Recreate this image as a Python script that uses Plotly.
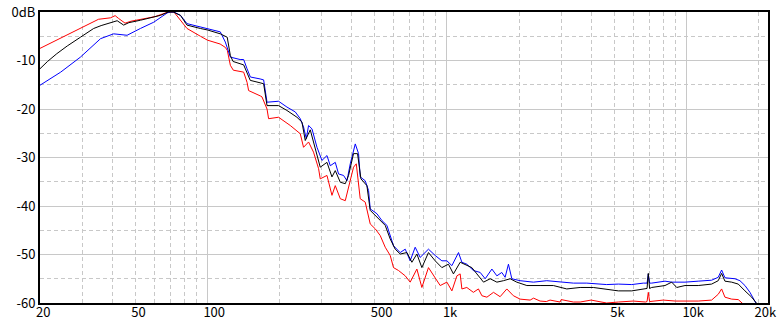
import math
import plotly.graph_objects as go

# ---- data (frequency in Hz, level in dB) ----
red_freq = [20, 24.4, 29.9, 35.1, 39.4, 41.2, 42.5, 45.3, 48, 51.5, 56, 60.5, 65, 68.7, 72.5,
            77.2, 80.7, 82.2, 93.5, 97.8, 100, 113, 118.8, 121.1, 124.7, 128.3, 141.7, 146.4, 148.6,
            166.3, 169, 177.4, 180.1, 198.2, 221.8, 244.2, 252, 264.5, 277.4, 291.2, 295.9, 315.7,
            331.2, 341.9, 358.8, 376.4, 388.5, 407.5, 418.4, 434.6, 456, 478.5, 502, 526.7, 552.7,
            579.8, 598.5, 627.9, 669.9, 702.6, 749.3, 786.1, 837.5, 893.3, 937.5, 1000, 1049, 1101,
            1136, 1155, 1211, 1290, 1354, 1400, 1469, 1565, 1668, 1779, 1895, 2021, 2226, 2300, 2449,
            2600, 2696, 2969, 3000, 3375, 3600, 4000, 4223, 4646, 5200, 6000, 6750, 6850, 6933, 7020,
            8000, 9000, 11204, 12744, 13580, 14028, 14484, 15451, 16462, 17200, 19000, 21000]
red_db = [-7.5, -5.4, -3.2, -1.5, -1.2, -0.75, -1.3, -2.3, -1.9, -1.6, -1.2, -0.95, -0.4, 0, 0,
          -1.7, -3.0, -3.4, -5.0, -5.5, -5.8, -6.6, -7.3, -7.9, -11, -12, -12.4, -14.5, -16.2,
          -17.3, -17.5, -20, -22, -21.7, -23.4, -25.1, -27.9, -26.8, -28.9, -32.3, -34.4, -33.7,
          -37.8, -35.8, -38.5, -38.9, -36.1, -32.0, -31.3, -38.5, -39.2, -43.7, -44.7, -46.1, -48.5,
          -50.2, -52.7, -53.3, -54.4, -55.7, -53.0, -56.8, -52.7, -54.8, -56.4, -55.7, -57.5, -54.4,
          -54.0, -57.1, -56.8, -57.8, -57.1, -58.5, -58.8, -57.8, -58.7, -57.1, -58.5, -59.2, -59.4, -59.0, -59.6,
          -59.7, -59.4, -59.8, -59.3, -59.8, -59.8, -59.4, -59.6, -60, -59.8, -59.6, -59.8, -59.7, -57.8, -59.7,
          -59.4, -59.6, -59.6, -59.4, -58.2, -57.1, -58.8, -59.2, -59.3, -60.2, -62, -64]

black_freq = [20, 21.5, 23.5, 26, 29.5, 33.5, 36, 39.4, 42, 44.7, 47, 52.5, 58, 63.6, 68.7, 72,
              77.2, 80.7, 82.2, 93.5, 100, 113.2, 121, 124.7, 128, 141.7, 146.4, 151, 166, 171.7,
              177.4, 198.2, 214.8, 236.5, 248.2, 256.2, 268.8, 281.9, 295.9, 315.7, 331.2, 341.9,
              358.8, 376.4, 388.5, 407.5, 423.6, 437.5, 463.4, 478.5, 518.2, 552.7, 579.8, 608.3,
              638.3, 680.8, 714.1, 749.3, 786.1, 837.5, 893.3, 952.7, 1015, 1065, 1136, 1211, 1271,
              1334, 1422, 1516, 1617, 1722, 1837, 1958, 2157, 2449, 2783, 3166, 3600, 4086, 4646,
              5199, 5911, 6607, 6850, 6933, 7020, 7162, 8140, 8682, 9111, 9864, 11204, 12744, 13580,
              14028, 14484, 15451, 16462, 17559, 18727, 19600, 21000]
black_db = [-11.7, -10.2, -8.6, -7.0, -5.2, -3.4, -2.8, -2.3, -1.8, -2.7, -2.2, -1.7, -1.2, -0.7, 0, 0,
            -0.7, -2.0, -2.7, -3.4, -3.7, -4.5, -5.2, -9.0, -10.2, -10.9, -12.5, -14.1, -14.6, -14.8,
            -19.3, -19.3, -20.3, -21.7, -22.7, -26.5, -24.3, -27.9, -32.0, -31.0, -34.0, -32.7,
            -35.1, -35.4, -33.7, -29.2, -29.2, -34.4, -35.8, -40.9, -42.7, -44.0, -46.8, -48.9,
            -49.9, -49.6, -51.6, -49.9, -52.7, -49.6, -51.3, -52.7, -52.0, -54.0, -51.6, -52.3, -52.7,
            -54.0, -55.7, -55.0, -55.7, -55.4, -55.0, -55.7, -56.4, -56.4, -56.4, -57.1, -56.8, -56.8, -57.1,
            -57.5, -57.5, -57.1, -57.0, -53.9, -57.0, -56.8, -56.4, -55.7, -56.8, -56.4, -56.4, -56.1, -55.4,
            -53.9, -55.5, -55.7, -56.1, -57.5, -58.8, -60, -62]

blue_freq = [20, 24.4, 29.5, 35.8, 40.6, 44, 46.2, 52.5, 59.7, 67.9, 70, 72.5, 77.2, 82.2, 93.5,
             113.2, 118.8, 124.7, 137, 141.7, 146.4, 151.1, 166, 171.7, 177.4, 198.2, 214.8, 232.7,
             244.2, 252, 258.8, 264.5, 273.3, 286.8, 300.8, 315.7, 325.9, 341.9, 353, 370.3, 382.6,
             394.9, 414.4, 427.7, 434.6, 456, 470.9, 478.5, 510.4, 535.4, 561.8, 579.8, 598.5, 638.3,
             669.9, 702.6, 737.1, 773.3, 837.5, 893.3, 952.7, 1000, 1049, 1118, 1155, 1211, 1290,
             1377, 1445, 1541, 1617, 1695, 1750, 1807, 1867, 2021, 2297, 2612, 2969, 3375, 3839, 4646,
             5199, 5911, 6607, 6850, 6933, 7020, 7162, 8140, 8682, 9864, 11204, 12744, 13580, 14028,
             14484, 15947, 16733, 17559, 18424, 19320, 20000, 21500]
blue_db = [-15.1, -12.4, -9.3, -5.5, -4.5, -4.6, -4.8, -3.4, -2.1, -0.2, 0, 0, -0.7, -2.4, -3.1,
           -4.1, -6.2, -9.3, -9.8, -9.8, -11.7, -13.4, -13.8, -14.0, -18.6, -18.4, -19.6, -20.6,
           -22.0, -23.7, -26.1, -23.4, -24.1, -27.9, -30.6, -29.6, -31.7, -31.0, -33.4, -33.7, -34.8,
           -31.3, -27.2, -29.2, -34.0, -34.8, -36.8, -40.6, -41.6, -43.0, -44.0, -46.1, -48.2, -49.6,
           -48.9, -51.3, -48.5, -50.6, -48.9, -50.2, -51.3, -51.3, -52.3, -49.6, -51.6, -52.0, -53.3,
           -53.7, -55.0, -53.0, -54.4, -53.7, -54.7, -52.0, -55.0, -55.4, -55.7, -55.4, -55.7, -55.9, -55.9, -56.2,
           -56.1, -56.2, -55.9, -55.9, -54.0, -55.9, -55.9, -55.5, -55.7, -55.7, -55.5, -55.3, -54.7, -53.2,
           -54.8, -55.0, -55.4, -56.4, -57.8, -59.6, -61, -63]

x_label_vals = [20, 50, 100, 500, 1000, 5000, 10000, 20000]
x_label_text = ["20", "50", "100", "500", "1k", "5k", "10k", "20k"]
x_major_grid = [100, 1000, 10000]
x_minor_grid = [30, 40, 50, 60, 70, 80, 90, 200, 300, 400, 500, 600, 700, 800, 900,
                2000, 3000, 4000, 5000, 6000, 7000, 8000, 9000, 20000]
y_label_vals = [-60, -50, -40, -30, -20, -10, 0]
y_label_text = ["-60", "-50", "-40", "-30", "-20", "-10", "0dB"]
y_minor_grid = [-55, -45, -35, -25, -15, -5]

x_range = [math.log10(20), 4.3407]
font_fam = "Noto Sans CJK JP, Noto Sans, sans-serif"
grid_col = "#c8c8c8"

fig = go.Figure()
for f, d, c, xa in [(red_freq, red_db, "#ff0000", "x"), (blue_freq, blue_db, "#0000ff", "x2"),
                    (black_freq, black_db, "#000000", "x2")]:
    fig.add_trace(go.Scatter(x=f, y=d, mode="lines", line=dict(color=c, width=1),
                             xaxis=xa, yaxis="y", showlegend=False))

fig.update_layout(
    width=779, height=332,
    margin=dict(l=40, r=11, t=12, b=29, autoexpand=False),
    paper_bgcolor="white", plot_bgcolor="white",
    xaxis=dict(type="log", range=x_range, tickmode="array", tickvals=x_major_grid,
               showticklabels=False, ticks="", showgrid=True, gridcolor=grid_col, gridwidth=1,
               minor=dict(tickmode="array", tickvals=x_minor_grid, showgrid=True,
                          griddash="4px,3px", gridcolor=grid_col, gridwidth=1, ticks=""),
               showline=True, linecolor="black", linewidth=2, mirror=True, zeroline=False,
               automargin=False),
    xaxis2=dict(type="log", range=x_range, overlaying="x", anchor="y", side="bottom",
                tickmode="array", tickvals=x_label_vals, ticktext=x_label_text,
                showgrid=False, ticks="", ticklabelposition="outside right",
                ticklabeloverflow="allow", automargin=False, ticklabelshift=-4,
                tickfont=dict(family=font_fam, size=13, color="black"), zeroline=False),
    yaxis=dict(range=[-60, 0], tickmode="array", tickvals=y_label_vals, ticktext=y_label_text,
               ticks="", showgrid=True, gridcolor=grid_col, gridwidth=1,
               minor=dict(tickmode="array", tickvals=y_minor_grid, showgrid=True,
                          griddash="4px,3px", gridcolor=grid_col, gridwidth=1, ticks=""),
               showline=True, linecolor="black", linewidth=2, mirror=True, zeroline=False,
               automargin=False,
               tickfont=dict(family=font_fam, size=13, color="black")),
)

fig.write_html("out.html")
